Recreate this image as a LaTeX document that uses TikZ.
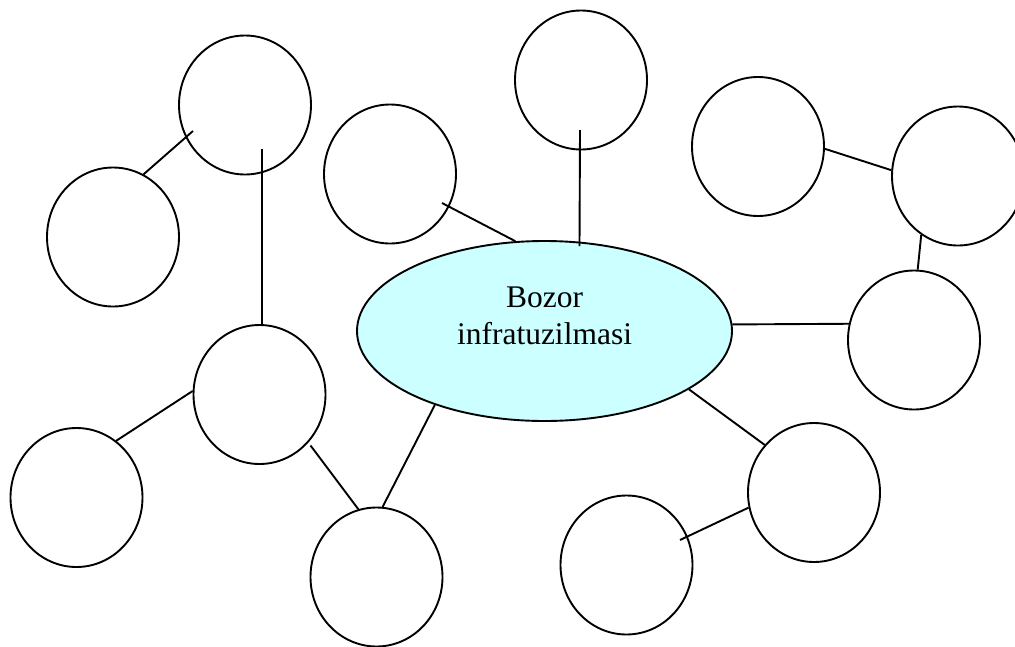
\documentclass[tikz,border=0pt]{standalone}
\usepackage{fontspec}
\setmainfont{Liberation Serif}
\usetikzlibrary{shapes.geometric, calc}
\definecolor{infracyan}{RGB}{204, 255, 255}
\definecolor{infraline}{RGB}{0, 0, 0}
\tikzset{
  blob/.style={draw=infraline, ellipse, line width=1.9pt, minimum width=132pt, minimum height=139pt, inner sep=0pt},
  core/.style={blob, fill=infracyan, minimum width=375pt, minimum height=180pt},
  link/.style={line width=1.9pt, infraline}
}
\begin{document}
\begin{tikzpicture}[x=1pt, y=-1pt]
                \useasboundingbox (0,0) rectangle (1015,646);
                \node[core, label={[font=\fontsize{31.5}{37}\selectfont, align=center, yshift=15pt]center:Bozor\\infratuzilmasi}] (infra) at (544.5,331) {};
                \node[blob] (topleft) at (245,105) {};
                \node[blob] (left) at (113,237) {};
                \node[blob] (midleft) at (390,174) {};
                \node[blob] (top) at (581,80) {};
                \node[blob] (topright) at (758,146.5) {};
                \node[blob] (farright) at (958,176) {};
                \node[blob] (right) at (914,340) {};
                \node[blob] (lowleft) at (259.5,394.5) {};
                \node[blob] (botleft) at (76.5,497.5) {};
                \node[blob] (bottom) at (376.5,577) {};
                \node[blob] (lowright) at (814,492.5) {};
                \node[blob] (botright) at (626.5,565) {};
                \coordinate (drop) at ($(topleft)+(17,44)$);
                \draw[link] ($(topleft)+(-52,26)$) -- (left.64);
                \draw[link] (drop) -- (drop |- lowleft.north);
                \draw[link] ($(midleft)+(52,29)$) -- (infra.108);
                \draw[link] ($(top)+(-1,50)$) -- ($(infra.north)+(35,6)$);
                \draw[link] (topright.-2) -- (farright.175);
                \draw[link] (farright.-122) -- (right.87);
                \draw[link] (infra.2) -- (right.166);
                \draw[link] (infra.-22) -- (lowright.136);
                \draw[link] (lowright.193) -- ($(botright)+(53.5,-25)$);
                \draw[link] (infra.214) -- (bottom.85);
                \draw[link] ($(lowleft)+(51,51)$) -- (bottom.105);
                \draw[link] (lowleft.177) -- (botleft.55);
            \end{tikzpicture}
\end{document}
